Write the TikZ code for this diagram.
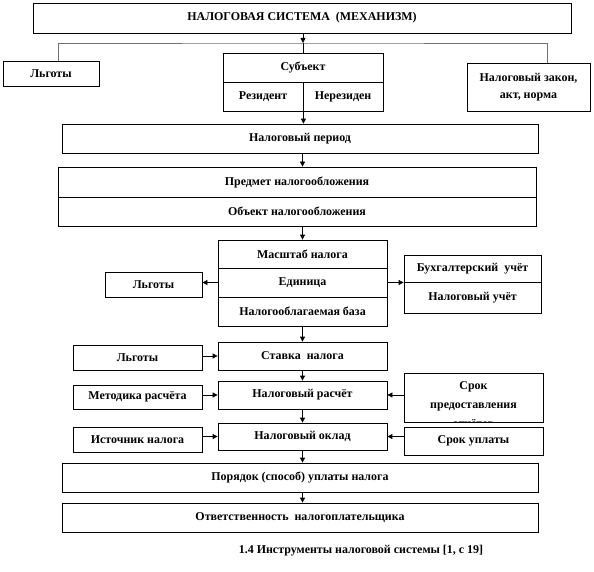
\documentclass[tikz,border=0pt]{standalone}
\usepackage{fontspec}
\setmainfont{Liberation Serif}
\usetikzlibrary{positioning,arrows.meta}

\begin{document}
\begin{tikzpicture}[
    x=1bp, y=-1bp,
    box/.style={rectangle, draw, line width=0.8bp, inner sep=0pt, align=center, font=\bfseries\fontsize{12}{17}\selectfont},
    arrow/.style={-{Triangle[length=5bp,width=5bp]}, line width=0.8bp},
    link/.style={line width=0.8bp}
]
\useasboundingbox (0,0) rectangle (594,572);

% Top of the system
\node[box, minimum width=538bp, minimum height=30bp] (system) at (302,18) {НАЛОГОВАЯ СИСТЕМА\ \ (МЕХАНИЗМ)};
\coordinate (branch) at (303,43);

% First row
\node[box, minimum width=96bp, minimum height=25bp] (lgota) at (51,73.5) {Льготы};
\node[box, minimum width=160bp, minimum height=29bp] (subj) at (303,67.5) {Субъект};
\node[box, minimum width=80bp, minimum height=29bp] (res) at (263,96.5) {Резидент};
\node[box, minimum width=80bp, minimum height=29bp] (nonres) at (343,96.5) {Нерезиден};
\node[box, minimum width=123bp, minimum height=48bp] (law) at (528.5,87) {Налоговый закон,\\акт, норма};

% Period and object
\node[box, minimum width=476bp, minimum height=29bp] (period) at (300,138.5) {Налоговый период};
\node[box, minimum width=478bp, minimum height=30bp] (subject) at (297,182) {Предмет налогообложения};
\node[box, minimum width=478bp, minimum height=29bp] (object) at (297,211.5) {Объект налогообложения};

% Scale, unit, base
\node[box, minimum width=169bp, minimum height=28bp] (scale) at (302.5,254) {Масштаб налога};
\node[box, minimum width=169bp, minimum height=29bp] (unit) at (302.5,282.5) {Единица};
\node[box, minimum width=169bp, minimum height=29bp] (base) at (302.5,311.5) {Налогооблагаемая база};
\node[box, minimum width=97bp, minimum height=25bp] (lgotb) at (153.5,284.5) {Льготы};
\node[box, minimum width=137bp, minimum height=27bp] (acc) at (472.5,268.5) {Бухгалтерский\ \ учёт};
\node[box, minimum width=137bp, minimum height=31bp] (taxacc) at (472.5,297.5) {Налоговый учёт};

% Rate, calculation, assessment
\node[box, minimum width=169bp, minimum height=28bp] (rate) at (302.5,356) {Ставка\ \ налога};
\node[box, minimum width=169bp, minimum height=28bp] (calc) at (302.5,395) {Налоговый расчёт};
\node[box, minimum width=169bp, minimum height=27bp] (assess) at (302.5,436.5) {Налоговый оклад};
\node[box, minimum width=129bp, minimum height=25bp] (lgotc) at (137.5,357.5) {Льготы};
\node[box, minimum width=129bp, minimum height=24bp] (method) at (137.5,397) {Методика расчёта};
\node[box, minimum width=129bp, minimum height=25bp] (source) at (137.5,439.5) {Источник налога};
\node[box, minimum width=139bp, minimum height=49bp] (deadline) at (473.5,397.5) {};
\begin{scope}
  \clip (deadline.north west) rectangle (deadline.south east);
  \node[box, draw=none, anchor=north, font=\bfseries\fontsize{12}{19}\selectfont] (deadlinetext) at ([yshift=-9bp]deadline.north) {Срок\\предоставления\\отчётов};
\end{scope}
\node[box, minimum width=139bp, minimum height=28bp] (payterm) at (473.5,441) {Срок уплаты};

% Payment and responsibility
\node[box, minimum width=476bp, minimum height=29bp] (order) at (300,477.5) {Порядок (способ) уплаты налога};
\node[box, minimum width=476bp, minimum height=29bp] (resp) at (300,517.5) {Ответственность\ \ налогоплательщика};

\node[font=\bfseries\fontsize{12}{14}\selectfont] (caption) at (361,551) {1.4 Инструменты налоговой системы [1, с 19]};

% Arrows
\draw[arrow] (system.south -| branch) -- (branch);
\draw[link, black!55] ([xshift=7bp]lgota.north) |- (branch) -| ([xshift=18.5bp]law.north);
\draw[link] (branch) -- (subj.north -| branch);
\draw[arrow] (res.south east) -- (res.south east |- period.north);
\draw[arrow] (period.south -| unit.north) -- (subject.north -| unit.north);
\draw[arrow] (object.south -| unit.north) -- (scale.north);
\draw[arrow] (unit.west) -- (unit.west -| lgotb.east);
\draw[arrow] (unit.east) -- (unit.east -| acc.west);
\draw[arrow] (base.south) -- (rate.north);
\draw[arrow] (rate.west -| lgotc.east) -- (rate.west);
\draw[arrow] (rate.south) -- (calc.north);
\draw[arrow] (calc.west -| method.east) -- (calc.west);
\draw[arrow] (calc.east -| deadline.west) -- (calc.east);
\draw[arrow] (calc.south) -- (assess.north);
\draw[arrow] (assess.west -| source.east) -- (assess.west);
\draw[arrow] (assess.east -| payterm.west) -- (assess.east);
\draw[arrow] (assess.south) -- (order.north -| assess.south);
\draw[arrow] (order.south -| assess.south) -- (resp.north -| assess.south);

\end{tikzpicture}
\end{document}
